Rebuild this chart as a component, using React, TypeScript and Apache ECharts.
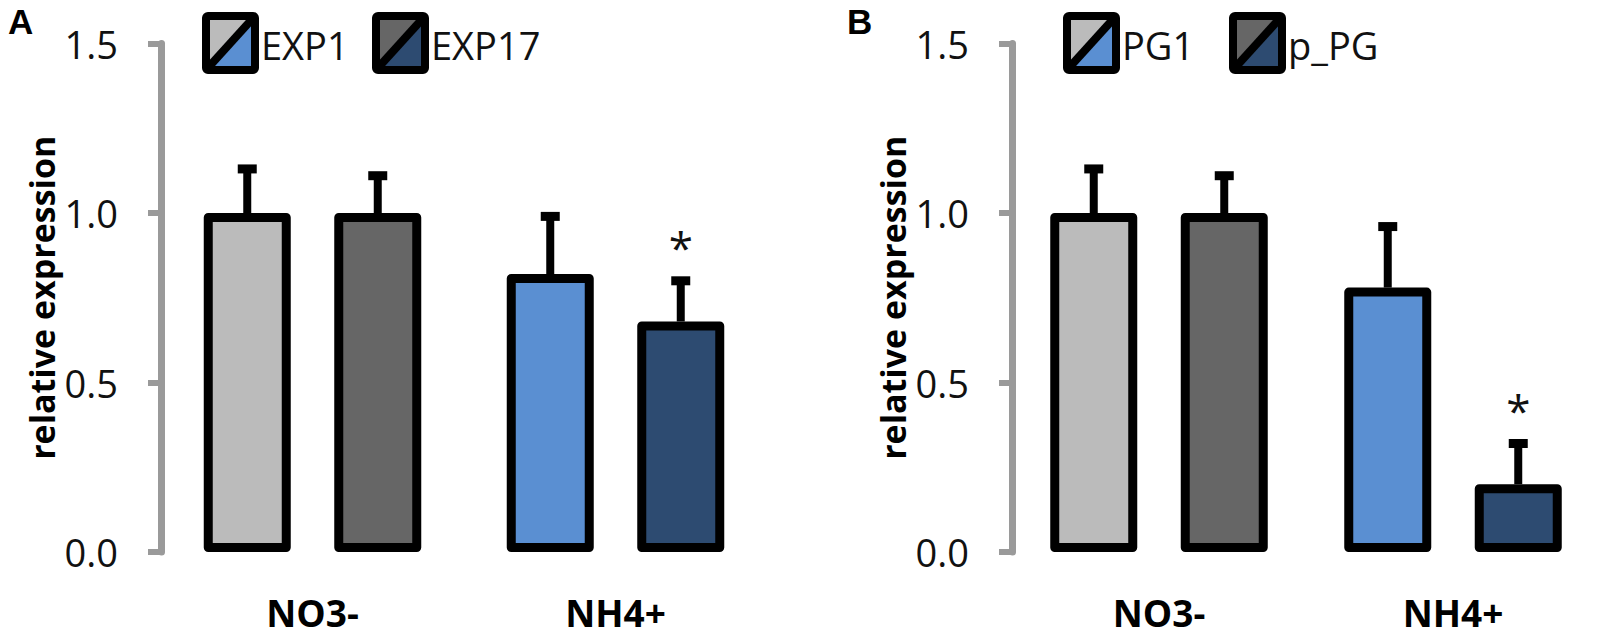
import React, { useEffect, useRef } from "react";
import * as echarts from "echarts";

// ---- data ----
const categories = ["NO3-", "NH4+"];
const yMin = 0;
const yMax = 1.5;
const yInterval = 0.5;
const yAxisName = "relative expression";
const panelLabels = ["A", "B"];

// Panel A
const namesA = ["EXP1", "EXP17"];
const exp1Values = [1.0, 0.82];
const exp1Sd = [0.13, 0.17];
const exp1Sig = ["", ""];
const exp17Values = [1.0, 0.68];
const exp17Sd = [0.11, 0.12];
const exp17Sig = ["", "*"];

// Panel B
const namesB = ["PG1", "p_PG"];
const pg1Values = [1.0, 0.78];
const pg1Sd = [0.13, 0.18];
const pg1Sig = ["", ""];
const ppgValues = [1.0, 0.2];
const ppgSd = [0.11, 0.12];
const ppgSig = ["", "*"];

// colours per category (NO3-, NH4+)
const firstColors = ["#BBBBBB", "#5A8FD2"];
const secondColors = ["#666666", "#2D4B71"];

// ---- layout constants ----
const BAR_W = 87;
const BAR_GAP = 0.5;
const FONT = "'Open Sans', 'Noto Sans', sans-serif";

function barSeries(name: string, values: number[], colors: string[], idx: number) {
  return {
    type: "bar",
    name,
    xAxisIndex: idx,
    yAxisIndex: idx,
    barWidth: BAR_W,
    barGap: BAR_GAP * 100 + "%",
    data: values.map((v, j) => ({ value: v, itemStyle: { color: colors[j] } })),
    itemStyle: { borderColor: "#000", borderWidth: 9, borderJoin: "round" },
    z: 2,
  };
}

function errSeries(values: number[], sd: number[], sig: string[], idx: number, side: number) {
  const offset = side * (BAR_W * (1 + BAR_GAP)) / 2;
  return {
    type: "custom",
    xAxisIndex: idx,
    yAxisIndex: idx,
    clip: false,
    z: 5,
    data: values.map((v, j) => [j, v, v + sd[j]]),
    renderItem: (params: any, api: any) => {
      const j = api.value(0);
      const base = api.coord([j, api.value(1)]);
      const top = api.coord([j, api.value(2)]);
      const cx = base[0] + offset;
      const children: any[] = [
        { type: "rect", shape: { x: cx - 4, y: top[1], width: 8, height: base[1] - top[1] }, style: { fill: "#000" } },
        { type: "rect", shape: { x: cx - 9.5, y: top[1] - 4.5, width: 19, height: 9 }, style: { fill: "#000" } },
      ];
      const s = sig[params.dataIndex];
      if (s) {
        children.push({
          type: "text",
          style: { text: s, x: cx, y: top[1] - 34, fontSize: 44, fontFamily: FONT, fill: "#111", align: "center", verticalAlign: "middle" },
        });
      }
      return { type: "group", children };
    },
  };
}

function legendIcon(x: number, y: number, c1: string, c2: string) {
  const w = 49;
  const h = 54;
  return {
    type: "group",
    x,
    y,
    children: [
      { type: "polygon", shape: { points: [[0, 0], [w, 0], [0, h]] }, style: { fill: c1 } },
      { type: "polygon", shape: { points: [[w, 0], [w, h], [0, h]] }, style: { fill: c2 } },
      { type: "line", shape: { x1: 0, y1: h, x2: w, y2: 0 }, style: { stroke: "#000", lineWidth: 8 } },
      { type: "rect", shape: { x: 0, y: 0, width: w, height: h, r: 2 }, style: { fill: "none", stroke: "#000", lineWidth: 8, lineJoin: "round" } },
    ],
  };
}

function legendText(x: number, y: number, t: string) {
  return {
    type: "text",
    x,
    y,
    style: { text: t, fontSize: 38, fontFamily: FONT, fill: "#111", align: "left", verticalAlign: "middle" },
  };
}

function panelLabel(x: number, y: number, t: string) {
  return {
    type: "text",
    x,
    y,
    style: { text: t, fontSize: 35, fontWeight: "bold", fontFamily: "'Liberation Sans', Arial, sans-serif", fill: "#000", verticalAlign: "middle" },
  };
}

function yAxisCfg(idx: number) {
  return {
    gridIndex: idx,
    type: "value",
    min: yMin,
    max: yMax,
    interval: yInterval,
    axisLine: { show: true, lineStyle: { color: "#9a9a9a", width: 7 } },
    axisTick: { show: true, length: 13, lineStyle: { color: "#9a9a9a", width: 6 } },
    splitLine: { show: false },
    axisLabel: { formatter: (v: number) => v.toFixed(1), fontSize: 38, fontFamily: FONT, color: "#111", margin: 43 },
    name: yAxisName,
    nameLocation: "middle",
    nameGap: 102,
    nameTextStyle: { fontSize: 34, fontWeight: "bold", fontFamily: FONT, color: "#000" },
  };
}

function xAxisCfg(idx: number) {
  return {
    gridIndex: idx,
    type: "category",
    data: categories,
    axisLine: { show: false },
    axisTick: { show: false },
    axisLabel: { fontSize: 37, fontWeight: "bold", fontFamily: FONT, color: "#000", margin: 42 },
  };
}

export default function App() {
  const ref = useRef<HTMLDivElement>(null);
  useEffect(() => {
    document.body.style.margin = "0";
    const chart = echarts.init(ref.current!, null, { renderer: "svg" });
    const option: any = {
      animation: false,
      backgroundColor: "#fff",
      grid: [
        { left: 161, top: 43.5, width: 606, height: 508.5 },
        { left: 1012, top: 43.5, width: 606, height: 508.5 },
      ],
      xAxis: [xAxisCfg(0), xAxisCfg(1)],
      yAxis: [yAxisCfg(0), yAxisCfg(1)],
      series: [
        barSeries(namesA[0], exp1Values, firstColors, 0),
        barSeries(namesA[1], exp17Values, secondColors, 0),
        barSeries(namesB[0], pg1Values, firstColors, 1),
        barSeries(namesB[1], ppgValues, secondColors, 1),
        errSeries(exp1Values, exp1Sd, exp1Sig, 0, -1),
        errSeries(exp17Values, exp17Sd, exp17Sig, 0, 1),
        errSeries(pg1Values, pg1Sd, pg1Sig, 1, -1),
        errSeries(ppgValues, ppgSd, ppgSig, 1, 1),
      ],
      graphic: [
        panelLabel(8, 21, panelLabels[0]),
        panelLabel(847, 21, panelLabels[1]),
        legendIcon(206, 16, firstColors[0], firstColors[1]),
        legendText(261, 45, namesA[0]),
        legendIcon(376, 16, secondColors[0], secondColors[1]),
        legendText(431, 45, namesA[1]),
        legendIcon(1067, 16, firstColors[0], firstColors[1]),
        legendText(1122, 45, namesB[0]),
        legendIcon(1233, 16, secondColors[0], secondColors[1]),
        legendText(1288, 45, namesB[1]),
      ],
    };
    chart.setOption(option);
    return () => chart.dispose();
  }, []);
  return <div ref={ref} style={{ position: "absolute", left: 0, top: 0, width: 1600, height: 640 }} />;
}
